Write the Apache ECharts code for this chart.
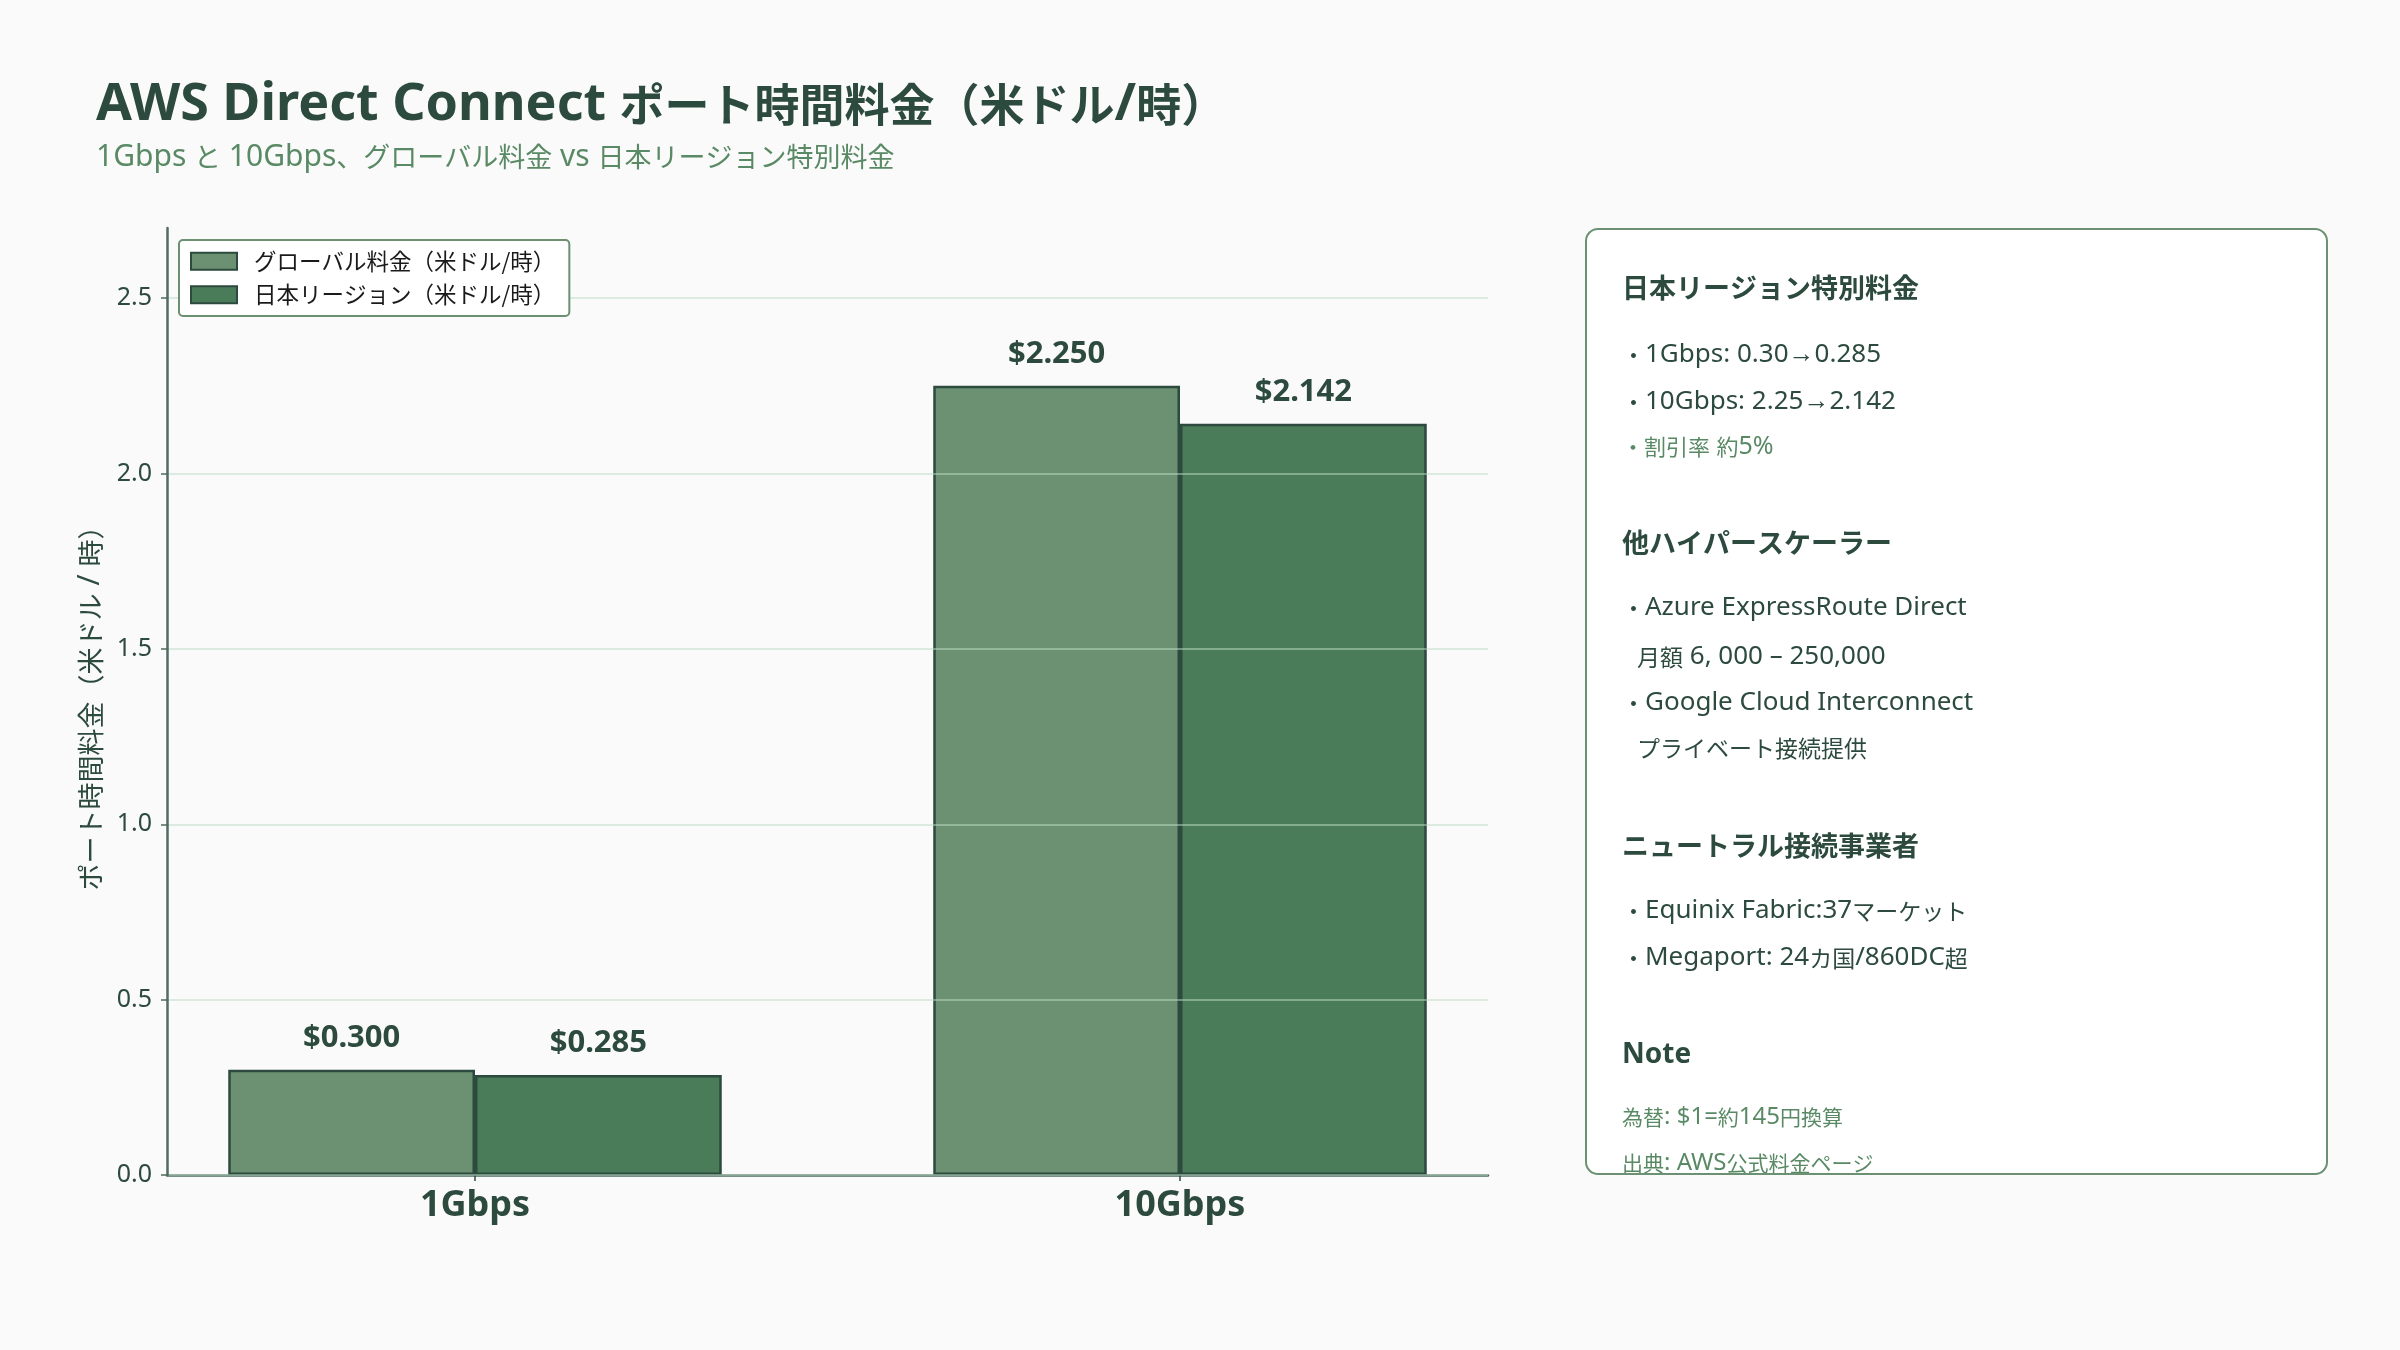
<!DOCTYPE html>
<html>
<head>
<meta charset="utf-8">
<title>AWS Direct Connect ポート時間料金</title>
<script src="https://cdn.jsdelivr.net/npm/echarts@6/dist/echarts.min.js"></script>
<style>
  html, body { margin: 0; padding: 0; background: #fafafa; }
  #chart { width: 2400px; height: 1350px; }
</style>
</head>
<body>
<div id="chart"></div>
<script>
// カテゴリとデータ
var categories = ['1Gbps', '10Gbps'];
var seriesNames = ['グローバル料金（米ドル/時）', '日本リージョン（米ドル/時）'];
var globalPrice = [0.300, 2.250];
var japanPrice = [0.285, 2.142];
var yTicks = [0, 0.5, 1.0, 1.5, 2.0, 2.5];
var yMax = 2.7;

// 右側パネルのテキスト
var panelHeaders = ['日本リージョン特別料金', '他ハイパースケーラー', 'ニュートラル接続事業者'];
var panelSection1 = ['・1Gbps: 0.30→0.285', '・10Gbps: 2.25→2.142', '・割引率 約5%'];
var panelSection2 = ['・Azure ExpressRoute Direct', '月額 6, 000 – 250,000', '・Google Cloud Interconnect', 'プライベート接続提供'];
var panelSection3 = ['・Equinix Fabric:37マーケット', '・Megaport: 24カ国/860DC超'];
var noteLines = ['為替: $1=約145円換算', '出典: AWS公式料金ページ'];

var LATIN = '"Noto Sans", sans-serif';
var CJK = '"Noto Sans CJK JP", sans-serif';
var DARK = '#2d4a3e';
var MID = '#5a8a65';
var AXIS = '#4f6b62';

var myChart = echarts.init(document.getElementById('chart'));

// 欧文と和文を分けてリッチテキストにする（欧文を少し大きく）
function mix(s) {
    var out = '', cur = '', type = null;
    for (var i = 0; i < s.length; i++) {
        var t = s.charCodeAt(i) < 0x3000 ? 'l' : 'c';
        if (t !== type && cur) { out += '{' + type + '|' + cur + '}'; cur = ''; }
        type = t;
        cur += s[i];
    }
    if (cur) out += '{' + type + '|' + cur + '}';
    return out;
}
function richStyle(cjkSize, latinSize, color, weight) {
    return {
        l: { fontFamily: LATIN, fontSize: latinSize, color: color, fill: color, fontWeight: weight || 'normal', verticalAlign: 'middle' },
        c: { fontFamily: CJK, fontSize: cjkSize, color: color, fill: color, fontWeight: weight || 'normal', verticalAlign: 'middle' }
    };
}

// パネル用テキスト要素
function txt(x, y, s, size, color, weight) {
    return {
        type: 'text', x: x, y: y, z: 10,
        style: {
            text: mix(s), rich: richStyle(size, Math.round(size * 1.12), color, weight),
            fill: color, verticalAlign: 'middle', align: 'left'
        }
    };
}

var px = 1622;
var panelEls = [
    { type: 'rect', z: 1, shape: { x: 1586, y: 229, width: 741, height: 945, r: 12 },
      style: { fill: '#ffffff', stroke: null } },
    txt(px, 288, panelHeaders[0], 27, DARK, 'bold'),
    txt(px, 355, panelSection1[0], 23, DARK),
    txt(px, 402, panelSection1[1], 23, DARK),
    txt(px, 447, panelSection1[2], 22, MID),
    txt(px, 543, panelHeaders[1], 27, DARK, 'bold'),
    txt(px, 608, panelSection2[0], 23, DARK),
    txt(px + 15, 657, panelSection2[1], 23, DARK),
    txt(px, 703, panelSection2[2], 23, DARK),
    txt(px + 15, 748, panelSection2[3], 23, DARK),
    txt(px, 846, panelHeaders[2], 27, DARK, 'bold'),
    txt(px, 911, panelSection3[0], 23, DARK),
    txt(px, 958, panelSection3[1], 23, DARK),
    {
        type: 'text', x: px, y: 1055, z: 10,
        style: { text: 'Note', fontFamily: LATIN, fontSize: 28, fontWeight: 'bold', fill: DARK, verticalAlign: 'middle' }
    },
    txt(px, 1117, noteLines[0], 21, MID),
    txt(px, 1163, noteLines[1], 21, MID),
    // パネル下端からはみ出した文字を隠す
    { type: 'rect', z: 20, shape: { x: 1580, y: 1175, width: 760, height: 40 },
      style: { fill: '#fafafa' } },
    { type: 'rect', z: 30, shape: { x: 1586, y: 229, width: 741, height: 945, r: 12 },
      style: { fill: null, stroke: '#6b9172', lineWidth: 2 } }
];

var option = {
    backgroundColor: '#fafafa',
    title: {
        text: mix('AWS Direct Connect ポート時間料金（米ドル/時）'),
        subtext: mix('1Gbps と 10Gbps、グローバル料金 vs 日本リージョン特別料金'),
        left: 96,
        top: 79,
        padding: 0,
        itemGap: 11,
        textStyle: { fontSize: 52, fontWeight: 'bold', color: DARK, rich: richStyle(45, 52, DARK, 'bold') },
        subtextStyle: { fontSize: 30, color: MID, rich: richStyle(27, 30, MID) }
    },
    legend: {
        data: seriesNames,
        orient: 'vertical',
        left: 179,
        top: 240,
        padding: [10, 14, 10, 11],
        itemWidth: 46,
        itemHeight: 17,
        itemGap: 11,
        icon: 'rect',
        backgroundColor: '#ffffff',
        borderColor: '#6b9172',
        borderWidth: 2,
        borderRadius: 4,
        textStyle: { fontFamily: CJK, fontSize: 22.5, color: '#1a1a1a', padding: [0, 0, 0, 12] }
    },
    grid: [
        // 軸枠用
        { left: 167, right: 912, top: 228, bottom: 175 },
        // 棒グラフ用
        { left: 122.5, width: 1410, top: 228, bottom: 175 }
    ],
    xAxis: [
        {
            gridIndex: 0, type: 'value', min: 0, max: 1,
            axisLine: { show: true, lineStyle: { color: AXIS, width: 2.5 } },
            axisTick: { show: false }, axisLabel: { show: false }, splitLine: { show: false }
        },
        {
            gridIndex: 1, type: 'category', data: categories,
            axisLine: { show: false },
            axisTick: { show: true, alignWithLabel: true, length: 6, lineStyle: { color: DARK, width: 1.5 } },
            axisLabel: { margin: 13, fontFamily: LATIN, fontSize: 36, fontWeight: 'bold', color: DARK }
        }
    ],
    yAxis: [
        {
            gridIndex: 0, type: 'value', min: 0, max: yMax, z: 3,
            name: mix('ポート時間料金（米ドル / 時）'),
            nameLocation: 'middle',
            nameGap: 60,
            nameTextStyle: { fontSize: 27, color: DARK, rich: richStyle(27, 30, DARK) },
            axisLine: { show: true, lineStyle: { color: AXIS, width: 2.5 } },
            axisTick: { show: true, length: 6, customValues: yTicks, lineStyle: { color: AXIS, width: 1.5 } },
            axisLabel: {
                customValues: yTicks, margin: 15, fontFamily: LATIN, fontSize: 25, color: DARK,
                formatter: function (v) { return v.toFixed(1); }
            },
            splitLine: { show: true, lineStyle: { color: 'rgba(190,220,196,0.5)', width: 2 } }
        },
        {
            gridIndex: 1, type: 'value', min: 0, max: yMax, show: false
        }
    ],
    series: [
        {
            name: seriesNames[0], type: 'bar', xAxisIndex: 1, yAxisIndex: 1,
            data: globalPrice, barWidth: '35%', barGap: '0%',
            itemStyle: { color: '#6b9172', borderColor: DARK, borderWidth: 2.5 },
            label: {
                show: true, position: 'top', distance: 16,
                fontFamily: LATIN, fontSize: 31, fontWeight: 'bold', color: DARK,
                formatter: function (p) { return '$' + p.value.toFixed(3); }
            }
        },
        {
            name: seriesNames[1], type: 'bar', xAxisIndex: 1, yAxisIndex: 1,
            data: japanPrice, barWidth: '35%', barGap: '0%',
            itemStyle: { color: '#4a7c59', borderColor: DARK, borderWidth: 2.5 },
            label: {
                show: true, position: 'top', distance: 16,
                fontFamily: LATIN, fontSize: 31, fontWeight: 'bold', color: DARK,
                formatter: function (p) { return '$' + p.value.toFixed(3); }
            }
        }
    ],
    graphic: panelEls
};

myChart.setOption(option);
</script>
</body>
</html>
